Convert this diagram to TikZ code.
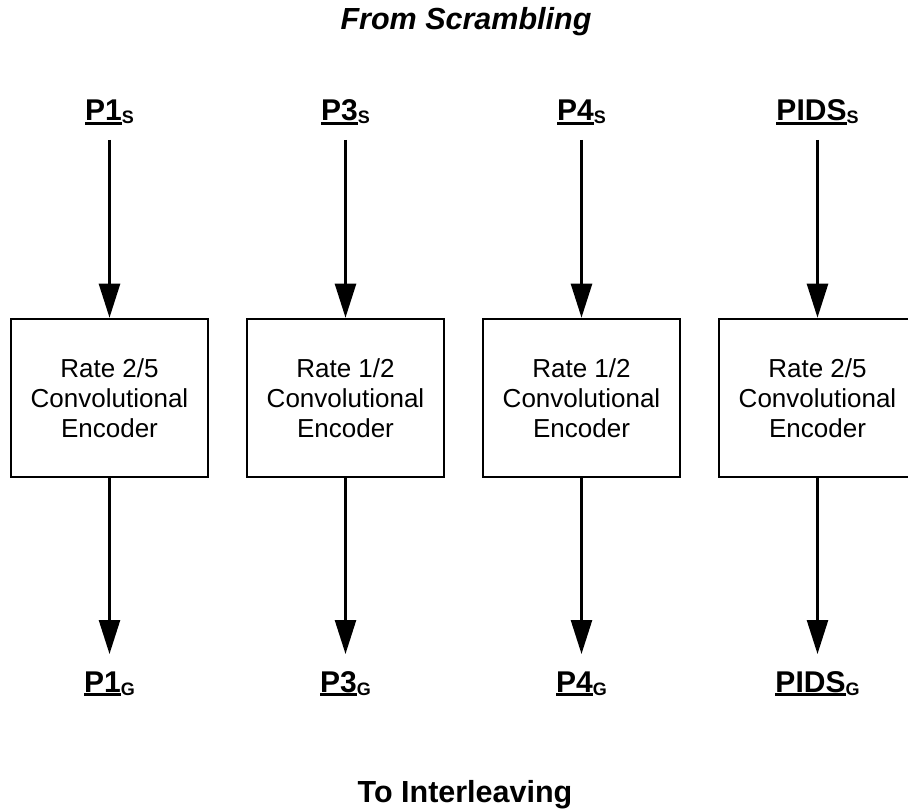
\documentclass[tikz,border=0pt]{standalone}
\usepackage{fontspec}
\setmainfont{Liberation Sans}
\usetikzlibrary{arrows.meta}
% underlined label text with a heavy rule
\newcommand{\ulbox}[1]{\setbox0\hbox{#1}\rlap{\rule[-4pt]{\wd0}{2.6pt}}\box0}
% label: underlined name with lowered small subscript
\newcommand{\sig}[2]{\fontsize{30}{30}\selectfont\bfseries\ulbox{#1}\raisebox{-3pt}{\fontsize{18}{18}\selectfont #2}}
\tikzset{
  encbox/.style={draw, line width=2.6pt, minimum width=197pt, minimum height=158pt,
    inner sep=0pt, align=center, font=\fontsize{26}{30}\selectfont},
  sigl/.style={anchor=base, inner sep=0pt},
  arr/.style={line width=2.6pt, -{Triangle[length=34pt,width=21pt]}},
}
\begin{document}
\begin{tikzpicture}[x=1pt,y=-1pt]
\useasboundingbox (0,0) rectangle (908,810);
\clip (0,0) rectangle (908,810);

\node[anchor=base, inner sep=0pt, font=\fontsize{30.5}{30}\selectfont\bfseries\itshape] (top) at (466,30) {From Scrambling};
\node[anchor=base, inner sep=0pt, font=\fontsize{30.5}{30}\selectfont\bfseries] (bot) at (465,802) {To Interleaving};

% encoders
\node[encbox] (b1) at (109.5,398) {Rate 2/5\\Convolutional\\Encoder};
\node[encbox] (b2) at (345.5,398) {Rate 1/2\\Convolutional\\Encoder};
\node[encbox] (b3) at (581.5,398) {Rate 1/2\\Convolutional\\Encoder};
\node[encbox] (b4) at (817.5,398) {Rate 2/5\\Convolutional\\Encoder};

% inputs
\node[sigl] (i1) at (109.5,121) {\sig{P1}{S}};
\node[sigl] (i2) at (345.5,121) {\sig{P3}{S}};
\node[sigl] (i3) at (581.5,121) {\sig{P4}{S}};
\node[sigl] (i4) at (817.5,121) {\sig{PIDS}{S}};

% outputs
\node[sigl] (o1) at (109.5,692) {\sig{P1}{G}};
\node[sigl] (o2) at (345.5,692) {\sig{P3}{G}};
\node[sigl] (o3) at (581.5,692) {\sig{P4}{G}};
\node[sigl] (o4) at (817.5,692) {\sig{PIDS}{G}};

\foreach \k in {1,2,3,4}{
  \draw[arr] ([yshift=-19pt]b\k.north |- i\k.base) -- (b\k.north);
  \draw[arr] (b\k.south) -- ([yshift=38pt]b\k.south |- o\k.base);
}
\end{tikzpicture}
\end{document}
